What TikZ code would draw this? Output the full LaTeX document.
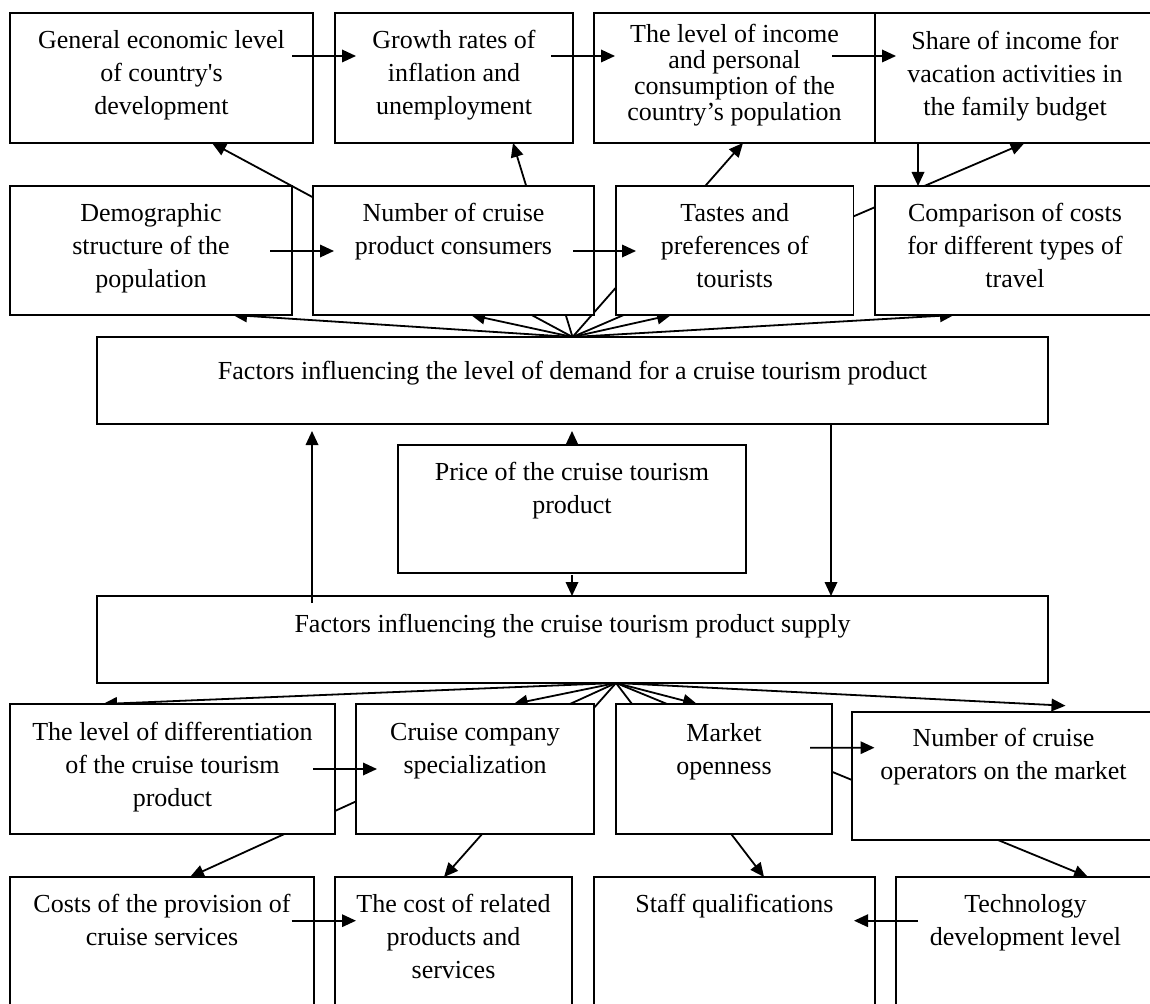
\documentclass[tikz,border=0pt]{standalone}
\usepackage{fontspec}
\setmainfont{Liberation Serif}
\usetikzlibrary{arrows.meta}
\pgfdeclarelayer{bg}
\pgfsetlayers{bg,main}
\newcommand\bx[4]{\parbox[c][#2pt][t]{#1pt}{\centering\rule{0pt}{#3pt}#4}}
\begin{document}
\begin{tikzpicture}[x=1pt,y=-1pt,
  box/.style={draw=black, line width=1.8pt, fill=white, inner sep=0pt, outer sep=0pt, rectangle, font=\fontsize{26}{33}\selectfont},
  arr/.style={line width=1.8pt, -{Triangle[length=14pt,width=12.5pt]}}]
\path[use as bounding box] (0,0) rectangle (1150,1003);
\clip (0,0) rectangle (1150,1003);
% top rows
\node[box] (gel) at (161.5,78) {\bx{303}{130}{36}{General economic level\\of country\textquotesingle s\\development}};
\node[box] (gro) at (454,78) {\bx{238}{130}{36}{Growth rates of\\inflation and\\unemployment}};
\node[box] (inc) at (734.5,78) {\bx{281}{130}{30}{\fontsize{26}{26}\selectfont The level of income\\and personal\\consumption of the\\country’s population}};
\node[box] (sha) at (1015,78) {\bx{280}{130}{37}{Share of income for\\vacation activities in\\the family budget}};
\node[box] (dmg) at (151,250.5) {\bx{282}{129}{35.5}{Demographic\\structure of the\\population}};
\node[box] (num) at (453.5,250.5) {\bx{281}{129}{35.5}{Number of cruise\\product consumers}};
\node[box] (tas) at (734.75,250.5) {\bx{237.5}{129}{35.5}{Tastes and\\preferences of\\tourists}};
\node[box] (cmp) at (1015,250.5) {\bx{280}{129}{35.5}{Comparison of costs\\for different types of\\travel}};
% middle
\node[box] (dmd) at (572.5,380.5) {\bx{951}{87}{42}{Factors influencing the level of demand for a cruise tourism product}};
\node[box] (prc) at (572,509) {\bx{348}{128}{35}{Price of the cruise tourism\\product}};
\node[box] (sup) at (572.5,639.5) {\bx{951}{87}{36}{Factors influencing the cruise tourism product supply}};
% bottom rows
\node[box] (dif) at (172.5,769) {\bx{325}{130}{36}{The level of differentiation\\of the cruise tourism\\product}};
\node[box] (spe) at (475,769) {\bx{238}{130}{36}{Cruise company\\specialization}};
\node[box] (opn) at (724,769) {\bx{216}{130}{37}{Market\\openness}};
\node[box] (ops) at (1003.5,775.85) {\bx{303}{128.3}{35}{Number of cruise\\operators on the market}};
\node[box] (cst) at (162,946) {\bx{304}{138}{35.5}{Costs of the provision of\\cruise services}};
\node[box] (rel) at (453.5,946) {\bx{237}{138}{35.5}{The cost of related\\products and\\services}};
\node[box] (stf) at (734.5,946) {\bx{281}{138}{35.5}{Staff qualifications}};
\node[box] (tec) at (1025.5,946) {\bx{259}{138}{35.5}{Technology\\development level}};
% fan arrows behind the boxes
\begin{pgfonlayer}{bg}
\draw[arr] (dmd.north) -- ([xshift=50.5pt]gel.south);
\draw[arr] (dmd.north) -- ([xshift=59pt]gro.south);
\draw[arr] (dmd.north) -- ([xshift=8.5pt]inc.south);
\draw[arr] (dmd.north) -- ([xshift=9.5pt]sha.south);
\draw[arr] (dmd.north) -- ([xshift=82pt]dmg.south);
\draw[arr] (dmd.north) -- ([xshift=17.5pt]num.south);
\draw[arr] (dmd.north) -- ([xshift=-63.75pt]tas.south);
\draw[arr] (dmd.north) -- ([xshift=-61pt]cmp.south);
\coordinate (hubB) at ([xshift=43.5pt]sup.south);
\draw[arr] (hubB) -- ([xshift=-69.5pt]dif.north);
\draw[arr] (hubB) -- ([xshift=38.6pt]spe.north);
\draw[arr] (hubB) -- ([xshift=-27pt]opn.north);
\draw[arr] (hubB) -- ([shift={(62,-6)}]ops.north);
\draw[arr] (hubB) -- ([xshift=28pt]cst.north);
\draw[arr] (hubB) -- ([xshift=-9.5pt]rel.north);
\draw[arr] (hubB) -- ([xshift=29.5pt]stf.north);
\draw[arr] (hubB) -- ([xshift=62.5pt]tec.north);
\end{pgfonlayer}
% arrows over the boxes
\draw[arr] ([shift={(-21,-22)}]gel.east) -- ([shift={(21,-22)}]gro.west);
\draw[arr] ([shift={(-22,-22)}]gro.east) -- ([shift={(21,-22)}]inc.west);
\draw[arr] ([shift={(-43,-22)}]inc.east) -- ([shift={(21,-22)}]sha.west);
\draw[arr] ([shift={(-22,0.5)}]dmg.east) -- ([shift={(21,0.5)}]num.west);
\draw[arr] ([shift={(-21,0.5)}]num.east) -- ([shift={(20,0.5)}]tas.west);
\draw[arr] ([xshift=-97pt]sha.south) -- ([xshift=-97pt]cmp.north);
\draw[arr] (prc.north) -- ([shift={(-0.5,7)}]dmd.south);
\draw[arr] ([shift={(0,2)}]prc.south) -- ([shift={(-0.5,0)}]sup.north);
\draw[arr] ([shift={(-260.5,7)}]sup.north) -- ([shift={(-260.5,7)}]dmd.south);
\draw[arr] ([xshift=258.5pt]dmd.south) -- ([xshift=258.5pt]sup.north);
\draw[arr] ([xshift=-22pt]dif.east) -- ([xshift=21pt]spe.west);
\draw[arr] ([shift={(-22,-21.3)}]opn.east) -- ([shift={(22.5,-28.15)}]ops.west);
\draw[arr] ([shift={(-22.4,-25.3)}]cst.east) -- ([shift={(21,-25.3)}]rel.west);
\draw[arr] ([shift={(22,-25.3)}]tec.west) -- ([shift={(-21,-25.3)}]stf.east);
\end{tikzpicture}
\end{document}
